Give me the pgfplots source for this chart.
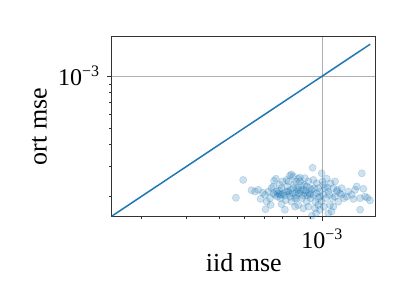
\documentclass[border=0pt]{standalone}
\usepackage{fontspec}
\setmainfont{Liberation Serif}
\usepackage{pgfplots}
\pgfplotsset{compat=1.18}
\definecolor{tabblue}{HTML}{1F77B4}
\definecolor{gridgray}{HTML}{B0B0B0}
\begin{document}
\begin{tikzpicture}
\path[use as bounding box] (-55.85pt,-44.15pt) rectangle (147.65pt,108.35pt);
\begin{axis}[
  at={(0,0)}, anchor=south west,
  scale only axis, width=132.15pt, height=90pt,
  xmode=log, ymode=log,
  xmin=1.54e-4, xmax=1.61e-3,
  ymin=1.53e-4, ymax=1.69e-3,
  xtick={1e-3}, ytick={1e-3},
  xticklabels={10\textsuperscript{−3}},
  yticklabels={10\textsuperscript{−3}},
  minor xtick={2e-4,3e-4,4e-4,5e-4,6e-4,7e-4,8e-4,9e-4},
  minor ytick={2e-4,3e-4,4e-4,5e-4,6e-4,7e-4,8e-4,9e-4},
  xtick pos=left, ytick pos=left,
  tick align=outside,
  major tick length=2.25pt, minor tick length=1.25pt,
  tick style={black!80, line width=0.4pt},
  xmajorgrids, ymajorgrids,
  major grid style={gridgray, line width=0.4pt},
  axis line style={black!80, line width=0.5pt},
  tick label style={font=\fontsize{12}{14}\selectfont},
  xticklabel style={yshift=-0.5pt},
  label style={font=\fontsize{13}{15}\selectfont},
  xlabel={iid mse}, ylabel={ort mse},
  xlabel style={at={(axis description cs:0.5,-0.302)}, anchor=base},
  ylabel style={at={(axis description cs:-0.246,0.5)}, anchor=base, rotate=0},
  clip=true,
]
\addplot[tabblue, line width=0.75pt] coordinates {(1.53e-4,1.53e-4) (1.53e-3,1.53e-3)};
\addplot[tabblue, only marks, mark=*, mark size=1.8pt, mark options={fill=tabblue, draw=tabblue, line width=0.3pt, fill opacity=0.22, draw opacity=0.22}] coordinates {
(4.64e-4,1.97e-4) (4.95e-4,2.50e-4) (5.33e-4,2.18e-4) (5.50e-4,2.14e-4) (5.66e-4,2.19e-4)
(5.89e-4,2.11e-4) (5.78e-4,1.94e-4) (6.04e-4,1.69e-4) (6.28e-4,1.96e-4) (6.37e-4,2.24e-4)
(6.51e-4,2.47e-4) (6.62e-4,2.54e-4) (6.76e-4,2.09e-4) (6.86e-4,2.05e-4) (6.96e-4,2.24e-4)
(7.02e-4,2.45e-4) (6.96e-4,1.81e-4) (7.17e-4,1.68e-4) (7.28e-4,2.14e-4) (7.39e-4,2.45e-4)
(7.50e-4,2.65e-4) (7.60e-4,2.69e-4) (7.73e-4,2.24e-4) (7.85e-4,1.96e-4) (7.96e-4,2.14e-4)
(8.07e-4,2.54e-4) (8.20e-4,2.58e-4) (8.32e-4,2.32e-4) (8.44e-4,2.19e-4) (8.56e-4,2.09e-4)
(8.70e-4,1.87e-4) (8.83e-4,2.45e-4) (8.96e-4,2.24e-4) (9.17e-4,2.94e-4) (9.23e-4,2.05e-4)
(9.37e-4,1.71e-4) (9.50e-4,2.39e-4) (9.64e-4,1.96e-4) (9.79e-4,2.14e-4) (9.94e-4,2.73e-4)
(10.02e-4,2.45e-4) (10.23e-4,2.24e-4) (10.39e-4,2.54e-4) (10.54e-4,2.14e-4) (10.70e-4,1.79e-4)
(10.85e-4,1.64e-4) (11.03e-4,2.24e-4) (11.36e-4,2.14e-4) (11.52e-4,1.87e-4) (11.87e-4,2.05e-4)
(12.12e-4,1.96e-4) (12.42e-4,2.00e-4) (13.18e-4,1.94e-4) (13.38e-4,2.19e-4) (13.57e-4,2.29e-4)
(14.19e-4,2.73e-4) (14.40e-4,2.22e-4) (13.98e-4,1.68e-4) (14.60e-4,2.00e-4) (14.92e-4,1.97e-4)
(15.27e-4,1.90e-4) (9.11e-4,1.55e-4) (7.85e-4,1.75e-4) (6.47e-4,2.09e-4) (6.57e-4,2.05e-4)
(6.66e-4,2.14e-4) (6.70e-4,2.00e-4) (6.82e-4,2.16e-4) (6.90e-4,1.96e-4) (7.06e-4,2.09e-4)
(7.17e-4,2.03e-4) (7.32e-4,2.29e-4) (7.45e-4,2.07e-4) (7.54e-4,2.19e-4) (7.67e-4,2.09e-4)
(7.78e-4,2.36e-4) (7.91e-4,2.03e-4) (8.01e-4,2.24e-4) (8.14e-4,2.09e-4) (8.25e-4,2.16e-4)
(8.35e-4,1.96e-4) (8.49e-4,2.34e-4) (8.64e-4,2.16e-4) (8.75e-4,2.03e-4) (8.91e-4,2.09e-4)
(9.01e-4,1.96e-4) (9.09e-4,2.19e-4) (9.29e-4,2.24e-4) (9.39e-4,1.87e-4) (9.50e-4,2.09e-4)
(9.64e-4,1.79e-4) (9.79e-4,2.00e-4) (9.91e-4,1.87e-4) (10.08e-4,2.05e-4) (10.14e-4,1.75e-4)
(10.31e-4,1.96e-4) (10.45e-4,2.26e-4) (10.64e-4,2.05e-4) (10.76e-4,2.39e-4) (10.95e-4,1.96e-4)
(11.19e-4,2.00e-4) (11.42e-4,2.19e-4) (11.70e-4,2.09e-4) (6.10e-4,1.87e-4) (6.32e-4,1.79e-4)
(7.23e-4,1.91e-4) (7.60e-4,1.87e-4) (8.07e-4,1.79e-4) (8.44e-4,1.71e-4) (8.83e-4,1.75e-4)
(9.45e-4,1.60e-4) (9.79e-4,1.68e-4) (10.54e-4,1.60e-4) (8.20e-4,2.45e-4) (8.56e-4,2.56e-4)
(9.23e-4,2.50e-4) (7.91e-4,2.45e-4) (7.28e-4,2.50e-4) (6.86e-4,2.34e-4) (6.47e-4,2.29e-4)
(6.19e-4,2.14e-4) (6.01e-4,2.05e-4) (8.70e-4,2.29e-4) (9.64e-4,2.24e-4) (10.08e-4,2.34e-4)
(11.19e-4,2.45e-4) (11.87e-4,2.24e-4) (12.60e-4,2.14e-4) (12.97e-4,2.05e-4) (13.98e-4,1.96e-4)
(11.03e-4,1.75e-4) (7.73e-4,2.62e-4) (6.96e-4,2.05e-4) (7.39e-4,2.14e-4) (7.96e-4,1.96e-4)
(8.96e-4,2.05e-4) (8.44e-4,2.03e-4) (8.07e-4,2.19e-4) (7.50e-4,2.00e-4)
};
\end{axis}
\end{tikzpicture}
\end{document}
